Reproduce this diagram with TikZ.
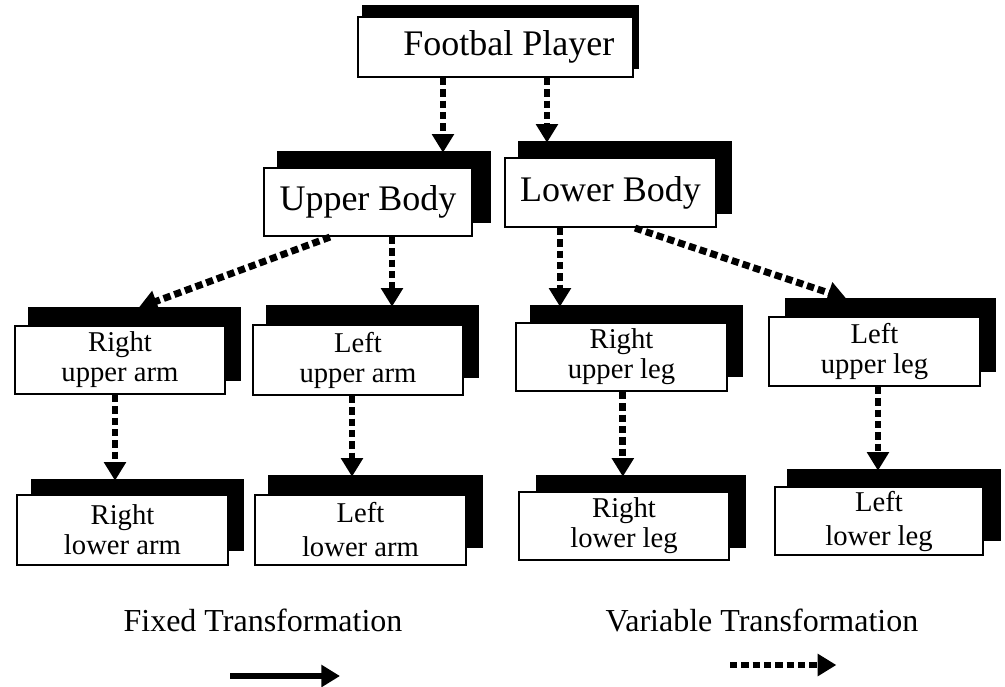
\documentclass[tikz,border=0pt]{standalone}
\usepackage{fontspec}
\setmainfont{Liberation Serif}
\usetikzlibrary{arrows.meta,fit}
\tikzset{
  shadowbox/.style={fill=black, draw=black, inner sep=0pt, line width=1pt},
  frontbox/.style={fill=white, draw=black, line width=1.6pt, inner sep=0pt, align=center},
  spanbox/.style n args={4}{minimum width={(#3-#1)*0.75pt}, minimum height={(#4-#2)*0.75pt}},
  bigtext/.style={font=\fontsize{27}{30}\selectfont},
  smalltext/.style={font=\fontsize{21.5}{22.5}\selectfont},
  legendtext/.style={font=\fontsize{24}{28}\selectfont},
  vararrow/.style={line width=5.2pt, dash pattern=on 5.5pt off 3pt, -{Triangle[width=16pt,length=14pt]}, shorten >=-1pt},
  fixarrow/.style={line width=5.2pt, -{Triangle[width=16pt,length=14pt]}},
}
\begin{document}
\begin{tikzpicture}[x=0.75pt,y=-0.75pt]
\useasboundingbox (0,0) rectangle (1005,686);
% Football player
\node[shadowbox, fit={(363,6)(638,68)}] (fps) {};
\node[frontbox, bigtext, spanbox={358}{17}{633}{77}] (fp) at (495.5,47) {\hspace*{20pt}Footbal Player};
% Upper / Lower body
\node[shadowbox, fit={(278,152)(490,222)}] (ubs) {};
\node[frontbox, bigtext, spanbox={264}{168}{472}{236}] (ub) at (368,202) {Upper Body};
\node[shadowbox, fit={(519,142)(731,213)}] (lbs) {};
\node[frontbox, bigtext, spanbox={505}{158}{716}{227}] (lb) at (610.5,192.5) {Lower Body};
% upper limbs
\node[shadowbox, fit={(29,308)(240,380)}] (ruas) {};
\node[frontbox, smalltext, spanbox={15}{326}{225}{394}] (rua) at (120,360) {Right\\upper arm};
\node[shadowbox, fit={(267,306)(478,377)}] (luas) {};
\node[frontbox, smalltext, spanbox={253}{325}{463}{395}] (lua) at (358,360) {Left\\upper arm};
\node[shadowbox, fit={(531,306)(742,376)}] (ruls) {};
\node[frontbox, smalltext, spanbox={516}{323}{727}{391}] (rul) at (621.5,357) {Right\\upper leg};
\node[shadowbox, fit={(786,299)(995,371)}] (luls) {};
\node[frontbox, smalltext, spanbox={769}{317}{980}{386}] (lul) at (874.5,351.5) {Left\\upper leg};
% lower limbs
\node[shadowbox, fit={(32,480)(243,550)}] (rlas) {};
\node[frontbox, smalltext, spanbox={17}{495}{228}{565}] (rla) at (122.5,530) {Right\\lower arm};
\node[shadowbox, fit={(269,476)(482,547)}] (llas) {};
\node[frontbox, smalltext, spanbox={255}{495}{466}{565}] (lla) at (360.5,530) {\raisebox{3pt}{Left}\\lower arm};
\node[shadowbox, fit={(537,476)(745,547)}] (rlls) {};
\node[frontbox, smalltext, spanbox={519}{492}{729}{560}] (rll) at (624,526) {Right\\lower leg};
\node[shadowbox, fit={(788,470)(1000,540)}] (llls) {};
\node[frontbox, smalltext, spanbox={775}{487}{983}{555}] (lll) at (879,521) {\raisebox{3pt}{Left}\\lower leg};
% connectors
\draw[vararrow] ([xshift=-39.4pt]fp.south) coordinate (a1) -- (a1 |- ubs.north);
\draw[vararrow] ([xshift=38.6pt]fp.south) coordinate (a2) -- (a2 |- lbs.north);
\draw[vararrow] ([xshift=-28.5pt]ub.south) -- ([xshift=4pt]ruas.north);
\draw[vararrow] ([xshift=18pt]ub.south) coordinate (a4) -- (a4 |- luas.north);
\draw[vararrow] ([xshift=-37.9pt]lb.south) coordinate (a5) -- (a5 |- ruls.north);
\draw[vararrow] ([xshift=18.4pt]lb.south) -- ([xshift=-34pt]luls.north);
\draw[vararrow] ([xshift=-3.75pt]rua.south) coordinate (a7) -- (a7 |- rlas.north);
\draw[vararrow] ([xshift=-4.5pt]lua.south) coordinate (a8) -- (a8 |- llas.north);
\draw[vararrow] ([xshift=1pt]rul.south) coordinate (a9) -- (a9 |- rlls.north);
\draw[vararrow] ([xshift=2.6pt]lul.south) coordinate (a10) -- (a10 |- llls.north);
% legend
\node[legendtext] (fixlab) at (263,620) {Fixed Transformation};
\node[legendtext] (varlab) at (762,620) {Variable Transformation};
\coordinate (fs) at (230,676);
\coordinate (fe) at (340,676);
\coordinate (vs) at (730,665);
\coordinate (ve) at (835,665);
\draw[fixarrow] (fs) -- (fe);
\draw[vararrow] (vs) -- (ve);
\end{tikzpicture}
\end{document}
